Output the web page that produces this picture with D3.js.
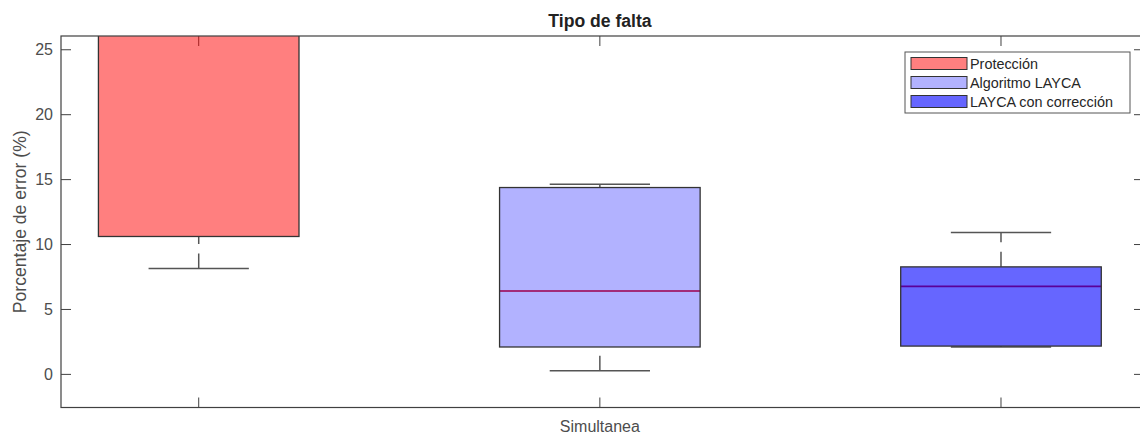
<!DOCTYPE html>
<html>
<head>
<meta charset="utf-8">
<script src="https://cdn.jsdelivr.net/npm/d3@7"></script>
<style>
	body { margin: 0; background: #fff; }
	text { font-family: "Liberation Sans", Arial, sans-serif; }
</style>
</head>
<body>
<main></main>
<script>
// groups shown in the legend, one box each
const groups = ["Protección", "Algoritmo LAYCA", "LAYCA con corrección"];
const baseColors = ["#ff0000", "#0000ff", "#0000ff"];
const alphas = [0.5, 0.3, 0.6];
const positions = [1, 2, 3];

// box statistics (Protección upper part is above the axis)
const lowWhisker = [8.15, 0.28, 2.11];
const q1 = [10.62, 2.11, 2.18];
const medians = [28.5, 6.42, 6.78];
const q3 = [31, 14.39, 8.28];
const highWhisker = [34, 14.65, 10.93];

const xTickValues = [1, 2, 3];
const xTickLabels = ["", "Simultanea", ""];
const yTickValues = [0, 5, 10, 15, 20, 25];

function boxChart() {
	const width = 1140;
	const height = 437;

	let dimensions = {
		width: width,
		height: height,
		margins: { top: 36, right: -4, bottom: 29.5, left: 61 },
	};
	dimensions.boundedWidth = dimensions.width - dimensions.margins.left - dimensions.margins.right;
	dimensions.boundedHeight = dimensions.height - dimensions.margins.top - dimensions.margins.bottom;

	const svg = d3.select("main")
		.append("svg")
		.attr("width", dimensions.width)
		.attr("height", dimensions.height)
		.style("display", "block");

	const graph = svg.append("g")
		.attr("transform", `translate(${dimensions.margins.left}, ${dimensions.margins.top})`);

	const xScale = d3.scaleLinear()
		.domain([0.6567, 3.3565])
		.range([0, dimensions.boundedWidth]);

	const yScale = d3.scaleLinear()
		.domain([-2.55, 26.06])
		.range([dimensions.boundedHeight, 0]);

	graph.append("clipPath")
		.attr("id", "clip")
		.append("rect")
		.attr("width", dimensions.boundedWidth)
		.attr("height", dimensions.boundedHeight);

	const axisColor = "#404040";

	// ticks on all four sides, pointing inwards (drawn under the boxes)
	const ticks = graph.append("g");
	ticks.selectAll(".xb")
		.data(xTickValues)
		.join("line")
		.attr("x1", d => xScale(d)).attr("x2", d => xScale(d))
		.attr("y1", dimensions.boundedHeight).attr("y2", dimensions.boundedHeight - 10)
		.attr("stroke", axisColor);
	ticks.selectAll(".xt")
		.data(xTickValues)
		.join("line")
		.attr("class", "xt")
		.attr("x1", d => xScale(d)).attr("x2", d => xScale(d))
		.attr("y1", 0).attr("y2", 10)
		.attr("stroke", axisColor);
	ticks.selectAll(".yl")
		.data(yTickValues)
		.join("line")
		.attr("class", "yl")
		.attr("x1", 0).attr("x2", 10)
		.attr("y1", d => yScale(d)).attr("y2", d => yScale(d))
		.attr("stroke", axisColor);
	ticks.selectAll(".yr")
		.data(yTickValues)
		.join("line")
		.attr("class", "yr")
		.attr("x1", dimensions.boundedWidth).attr("x2", dimensions.boundedWidth - 10)
		.attr("y1", d => yScale(d)).attr("y2", d => yScale(d))
		.attr("stroke", axisColor);

	const boxes = graph.append("g").attr("clip-path", "url(#clip)");
	const boxWidth = 0.5;
	const capWidth = 0.25;
	const data = groups.map((g, i) => ({
		name: g, pos: positions[i], color: baseColors[i], alpha: alphas[i],
		lo: lowWhisker[i], q1: q1[i], med: medians[i], q3: q3[i], hi: highWhisker[i],
	}));

	// whiskers: dashed, drawn from the lower value up
	boxes.selectAll(".wlo")
		.data(data)
		.join("line")
		.attr("x1", d => xScale(d.pos)).attr("x2", d => xScale(d.pos))
		.attr("y1", d => yScale(d.lo)).attr("y2", d => yScale(d.q1))
		.attr("stroke", "#555").attr("stroke-width", 1.5)
		.attr("stroke-dasharray", "15,9.5");
	boxes.selectAll(".whi")
		.data(data)
		.join("line")
		.attr("x1", d => xScale(d.pos)).attr("x2", d => xScale(d.pos))
		.attr("y1", d => yScale(d.q3)).attr("y2", d => yScale(d.hi))
		.attr("stroke", "#555").attr("stroke-width", 1.5)
		.attr("stroke-dasharray", "15,9.5");
	boxes.selectAll(".caplo")
		.data(data)
		.join("line")
		.attr("x1", d => xScale(d.pos - capWidth / 2)).attr("x2", d => xScale(d.pos + capWidth / 2))
		.attr("y1", d => yScale(d.lo)).attr("y2", d => yScale(d.lo))
		.attr("stroke", "#555").attr("stroke-width", 1.5);
	boxes.selectAll(".caphi")
		.data(data)
		.join("line")
		.attr("x1", d => xScale(d.pos - capWidth / 2)).attr("x2", d => xScale(d.pos + capWidth / 2))
		.attr("y1", d => yScale(d.hi)).attr("y2", d => yScale(d.hi))
		.attr("stroke", "#555").attr("stroke-width", 1.5);

	// red median lines sit under the translucent patches
	boxes.selectAll(".med")
		.data(data)
		.join("line")
		.attr("x1", d => xScale(d.pos - boxWidth / 2)).attr("x2", d => xScale(d.pos + boxWidth / 2))
		.attr("y1", d => yScale(d.med)).attr("y2", d => yScale(d.med))
		.attr("stroke", "#e00000").attr("stroke-width", 1.6);

	boxes.selectAll(".box")
		.data(data)
		.join("rect")
		.attr("x", d => xScale(d.pos - boxWidth / 2))
		.attr("width", d => xScale(d.pos + boxWidth / 2) - xScale(d.pos - boxWidth / 2))
		.attr("y", d => yScale(d.q3))
		.attr("height", d => yScale(d.q1) - yScale(d.q3))
		.attr("fill", d => d.color)
		.attr("fill-opacity", d => d.alpha)
		.attr("stroke", "#333")
		.attr("stroke-width", 1.3);

	// frame
	graph.append("rect")
		.attr("width", dimensions.boundedWidth)
		.attr("height", dimensions.boundedHeight)
		.attr("fill", "none")
		.attr("stroke", axisColor)
		.attr("stroke-width", 1.2);

	// tick labels
	graph.selectAll(".ylab")
		.data(yTickValues)
		.join("text")
		.attr("x", -8)
		.attr("y", d => yScale(d))
		.attr("dy", "0.35em")
		.attr("text-anchor", "end")
		.attr("fill", "#4d4d4d")
		.style("font-size", "16px")
		.text(d => d);
	graph.selectAll(".xlab")
		.data(xTickValues)
		.join("text")
		.attr("x", d => xScale(d))
		.attr("y", dimensions.boundedHeight + 24)
		.attr("text-anchor", "middle")
		.attr("fill", "#4d4d4d")
		.style("font-size", "16px")
		.text((d, i) => xTickLabels[i]);

	svg.append("text")
		.attr("x", 600)
		.attr("y", 27)
		.attr("text-anchor", "middle")
		.attr("fill", "#222")
		.style("font-size", "17.6px")
		.style("font-weight", "bold")
		.text("Tipo de falta");

	svg.append("text")
		.attr("transform", `translate(26, ${dimensions.margins.top + dimensions.boundedHeight / 2}) rotate(-90)`)
		.attr("text-anchor", "middle")
		.attr("fill", "#4d4d4d")
		.style("font-size", "17.6px")
		.text("Porcentaje de error (%)");

	// legend
	const legend = svg.append("g").attr("transform", "translate(905, 52)");
	legend.append("rect")
		.attr("width", 225).attr("height", 61)
		.attr("fill", "#fff").attr("stroke", "#555").attr("stroke-width", 1);
	const items = legend.selectAll(".item")
		.data(data)
		.join("g")
		.attr("transform", (d, i) => `translate(6, ${11.5 + i * 19})`);
	items.append("rect")
		.attr("x", 0).attr("y", -6)
		.attr("width", 56).attr("height", 12)
		.attr("fill", d => d.color)
		.attr("fill-opacity", d => d.alpha)
		.attr("stroke", "#333").attr("stroke-width", 1);
	items.append("text")
		.attr("x", 59).attr("dy", "0.36em")
		.attr("fill", "#262626")
		.style("font-size", "14.4px")
		.text(d => d.name);
}
boxChart();
</script>
</body>
</html>
